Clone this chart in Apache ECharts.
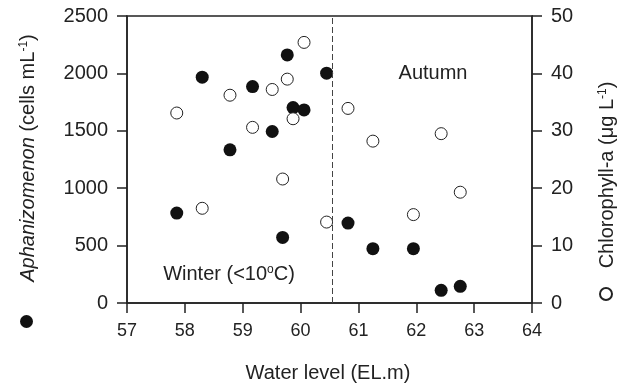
<!DOCTYPE html>
<html>
<head>
<meta charset="utf-8">
<script src="https://cdn.jsdelivr.net/npm/echarts@6/dist/echarts.min.js"></script>
<style>
  html, body { margin: 0; padding: 0; background: #fff; }
  #chart { width: 630px; height: 390px; }
</style>
</head>
<body>
<div id="chart"></div>
<script>
// water level (EL.m) for each sampling
const waterLevel = [57.86, 58.30, 58.78, 59.17, 59.51, 59.69, 59.77, 59.87, 60.06, 60.45, 60.82, 61.25, 61.95, 62.43, 62.76];
// Aphanizomenon (cells/mL) - left axis
const aphanizomenon = [783, 1967, 1334, 1885, 1494, 571, 2161, 1702, 1682, 2002, 696, 473, 473, 110, 145];
// Chlorophyll-a (ug/L) - right axis
const chlorophyll = [33.1, 16.5, 36.2, 30.6, 37.2, 21.6, 39.0, 32.1, 45.4, 14.1, 33.9, 28.2, 15.4, 29.5, 19.3];
const seasonSplit = 60.54;

const FONT = '"Liberation Sans", Arial, sans-serif';
const INK = '#222';

const chart = echarts.init(document.getElementById('chart'));

const axisCommon = {
  axisLine: { show: true, lineStyle: { color: INK, width: 1.5 } },
  axisTick: { show: true, inside: false, length: 10, lineStyle: { color: INK, width: 1.5 } },
  axisLabel: { color: INK, fontSize: 18, fontFamily: FONT, margin: 19, formatter: v => String(v) },
  splitLine: { show: false }
};
const yLabel = Object.assign({}, axisCommon.axisLabel, { fontSize: 20 });

const option = {
  animation: false,
  grid: {
    left: 127, right: 98, top: 16, bottom: 87,
    show: true, borderColor: INK, borderWidth: 1.5, backgroundColor: 'transparent'
  },
  legend: [
    {
      data: ['Aphanizomenon'], left: 20, top: 315, icon: 'circle',
      itemWidth: 13, itemHeight: 13, formatter: () => '', selectedMode: false, padding: 0
    },
    {
      data: ['Chlorophyll-a'], left: 599, top: 287, icon: 'circle',
      itemWidth: 12, itemHeight: 12, formatter: () => '', selectedMode: false, padding: 0
    }
  ],
  xAxis: Object.assign({}, axisCommon, {
    type: 'value', min: 57, max: 64, interval: 1
  }),
  yAxis: [
    Object.assign({}, axisCommon, { type: 'value', min: 0, max: 2500, interval: 500, position: 'left', axisLabel: yLabel }),
    Object.assign({}, axisCommon, { type: 'value', min: 0, max: 50, interval: 10, position: 'right', axisLabel: yLabel })
  ],
  graphic: [
    {
      type: 'text', x: 28, y: 158, rotation: Math.PI / 2,
      style: {
        text: '{i|Aphanizomenon} (cells mL{s|-1})',
        align: 'center', verticalAlign: 'middle',
        fill: INK, font: '20px ' + FONT,
        rich: {
          i: { fontStyle: 'italic', fontSize: 20, fontFamily: FONT, fill: INK },
          s: { fontSize: 12, fontFamily: FONT, verticalAlign: 'top', fill: INK }
        }
      }
    },
    {
      type: 'text', x: 607, y: 175, rotation: Math.PI / 2,
      style: {
        text: 'Chlorophyll-a (μg L{s|-1})',
        align: 'center', verticalAlign: 'middle',
        fill: INK, font: '20px ' + FONT,
        rich: {
          s: { fontSize: 12, fontFamily: FONT, verticalAlign: 'top', fill: INK }
        }
      }
    },
    {
      type: 'text', x: 328, y: 373,
      style: {
        text: 'Water level (EL.m)', align: 'center', verticalAlign: 'middle',
        fill: INK, font: '20px ' + FONT
      }
    },
    {
      type: 'text', x: 433, y: 73,
      style: {
        text: 'Autumn', align: 'center', verticalAlign: 'middle',
        fill: INK, font: '20px ' + FONT
      }
    },
    {
      type: 'text', x: 229, y: 274,
      style: {
        text: 'Winter (<10{s|o}C)', align: 'center', verticalAlign: 'middle',
        fill: INK, font: '20px ' + FONT,
        rich: {
          s: { fontSize: 12, fontFamily: FONT, verticalAlign: 'top', fill: INK }
        }
      }
    }
  ],
  series: [
    {
      name: 'Aphanizomenon',
      type: 'scatter',
      yAxisIndex: 0,
      symbol: 'circle',
      symbolSize: 13,
      itemStyle: { color: '#111', opacity: 1 },
      data: waterLevel.map((x, i) => [x, aphanizomenon[i]]),
      markLine: {
        silent: true,
        symbol: ['none', 'none'],
        label: { show: false },
        lineStyle: { color: '#444', width: 1, type: [6, 3] },
        data: [{ xAxis: seasonSplit }]
      }
    },
    {
      name: 'Chlorophyll-a',
      type: 'scatter',
      yAxisIndex: 1,
      symbol: 'circle',
      symbolSize: 12,
      itemStyle: { color: '#fff', borderColor: INK, borderWidth: 1, opacity: 1 },
      data: waterLevel.map((x, i) => [x, chlorophyll[i]])
    }
  ]
};

chart.setOption(option);
</script>
</body>
</html>
